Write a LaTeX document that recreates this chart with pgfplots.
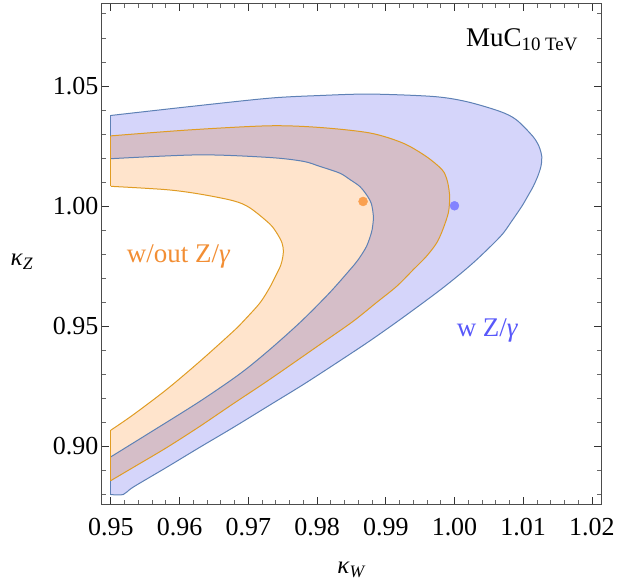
\documentclass[border=0pt]{standalone}
\usepackage{fontspec}
\setmainfont{Liberation Serif}
\usepackage{pgfplots}
\pgfplotsset{compat=1.18}
\usepackage{pgfplotstable}
\usepgfplotslibrary{fillbetween}

\definecolor{bluefill}{RGB}{213,213,250}
\definecolor{orangefill}{RGB}{255,228,204}
\definecolor{blueline}{RGB}{94,129,181}
\definecolor{orangeline}{RGB}{224,156,36}
\definecolor{orangetext}{RGB}{242,142,52}
\definecolor{bluetext}{RGB}{88,88,250}
\definecolor{orangedot}{RGB}{250,160,80}
\definecolor{bluedot}{RGB}{130,130,255}

% with Z/gamma: outer and inner boundary, both from the top-left end
\pgfplotstableread{
x y
0.9500 1.0377
0.9615 1.0414
0.9731 1.0449
0.9804 1.0460
0.9877 1.0466
0.9969 1.0456
1.0017 1.0435
1.0066 1.0394
1.0090 1.0359
1.0114 1.0290
1.0123 1.0248
1.0127 1.0206
1.0126 1.0168
1.0122 1.0130
1.0115 1.0084
1.0107 1.0043
1.0098 0.9999
1.0083 0.9936
1.0067 0.9874
1.0027 0.9763
0.9983 0.9659
0.9925 0.9536
0.9877 0.9439
0.9828 0.9346
0.9780 0.9257
0.9731 0.9171
0.9678 0.9078
0.9629 0.8995
0.9581 0.8912
0.9532 0.8829
0.9518 0.8799
0.9500 0.8799
}\blueouter

\pgfplotstableread{
x y
0.9500 1.0197
0.9629 1.0213
0.9731 1.0202
0.9780 1.0186
0.9804 1.0165
0.9833 1.0137
0.9848 1.0110
0.9862 1.0082
0.9872 1.0047
0.9879 1.0010
0.9882 0.9957
0.9881 0.9918
0.9879 0.9888
0.9872 0.9832
0.9860 0.9777
0.9848 0.9735
0.9818 0.9638
0.9777 0.9520
0.9731 0.9402
0.9688 0.9302
0.9629 0.9186
0.9557 0.9057
0.9500 0.8956
}\blueinner

% without Z/gamma
\pgfplotstableread{
x y
0.9500 1.0292
0.9615 1.0317
0.9731 1.0334
0.9804 1.0327
0.9877 1.0304
0.9925 1.0262
0.9959 1.0206
0.9982 1.0151
0.9989 1.0110
0.9992 1.0068
0.9993 1.0030
0.9991 0.9971
0.9983 0.9902
0.9974 0.9846
0.9959 0.9790
0.9940 0.9735
0.9916 0.9666
0.9886 0.9597
0.9852 0.9519
0.9804 0.9423
0.9731 0.9278
0.9678 0.9177
0.9629 0.9082
0.9581 0.8994
0.9532 0.8911
0.9500 0.8857
}\orangeouter

\pgfplotstableread{
x y
0.9500 1.0082
0.9581 1.0068
0.9629 1.0050
0.9678 1.0022
0.9702 0.9993
0.9731 0.9926
0.9742 0.9885
0.9749 0.9847
0.9751 0.9814
0.9750 0.9785
0.9747 0.9752
0.9740 0.9710
0.9731 0.9660
0.9717 0.9597
0.9695 0.9527
0.9678 0.9478
0.9629 0.9352
0.9581 0.9236
0.9532 0.9130
0.9500 0.9067
}\orangeinner

\begin{document}
\begin{tikzpicture}
\begin{axis}[
    name=ax,
    scale only axis,
    width=500pt, height=501pt,
    xmin=0.9487, xmax=1.0214,
    ymin=0.8757, ymax=1.0841,
    xtick={0.95,0.96,0.97,0.98,0.99,1.00,1.01,1.02},
    ytick={0.90,0.95,1.00,1.05},
    minor xtick={0.952,0.954,0.956,0.958,0.962,0.964,0.966,0.968,0.972,0.974,0.976,0.978,
                 0.982,0.984,0.986,0.988,0.992,0.994,0.996,0.998,1.002,1.004,1.006,1.008,
                 1.012,1.014,1.016,1.018},
    minor ytick={0.88,0.89,0.91,0.92,0.93,0.94,0.96,0.97,0.98,0.99,1.01,1.02,1.03,1.04,1.06,1.07,1.08},
    tick align=inside,
    major tick length=7.5pt,
    minor tick length=4.2pt,
    tick style={black!80, line width=0.8pt},
    minor tick style={black!60, line width=0.7pt},
    axis line style={black!70, line width=1pt},
    tick label style={font=\fontsize{26}{30}\selectfont},
    xticklabel style={yshift=-10pt},
    /pgf/number format/.cd, fixed, fixed zerofill, precision=2, assume math mode=true,
    /pgfplots/.cd,
    xlabel={\textit{κ}\textsubscript{\textit{W}}},
    ylabel={\textit{κ}\textsubscript{\textit{Z}}},
    every axis x label/.style={at={(axis description cs:0.5,-0.13)}, anchor=center,
        font=\fontsize{25}{28}\selectfont},
    every axis y label/.style={at={(axis description cs:-0.16,0.485)}, anchor=center,
        font=\fontsize{25}{28}\selectfont},
]
% boundaries (named for the fills)
\addplot[name path=bo, blueline, line width=1pt, smooth, tension=0.5] table {\blueouter};
\addplot[name path=bi, blueline, line width=1pt, smooth, tension=0.5] table {\blueinner};
\addplot[blueline, line width=1pt] coordinates {(0.9500,1.0377) (0.9500,1.0197)};
\addplot[blueline, line width=1pt] coordinates {(0.9500,0.8799) (0.9500,0.8956)};
\addplot[name path=oo, orangeline, line width=1pt, smooth, tension=0.5] table {\orangeouter};
\addplot[name path=oi, orangeline, line width=1pt, smooth, tension=0.5] table {\orangeinner};
\addplot[orangeline, line width=1pt] coordinates {(0.9500,1.0292) (0.9500,1.0082)};
\addplot[orangeline, line width=1pt] coordinates {(0.9500,0.8857) (0.9500,0.9067)};
% fills (drawn behind the lines)
\addplot[fill=bluefill, draw=none] fill between[of=bo and bi];
\addplot[fill=orangefill, draw=none, blend mode=multiply] fill between[of=oo and oi];
% best-fit points
\addplot[only marks, mark=*, mark size=4.5pt, color=orangedot] coordinates {(0.9867,1.0019)};
\addplot[only marks, mark=*, mark size=4.5pt, color=bluedot] coordinates {(1.0000,1.0001)};

\node[anchor=base west, inner sep=0pt, text=orangetext, font=\fontsize{27}{30}\selectfont]
    at (axis cs:0.9523,0.9763) {w/out Z/\textit{γ}};
\node[anchor=base west, inner sep=0pt, text=bluetext, font=\fontsize{27}{30}\selectfont]
    at (axis cs:1.0003,0.9458) {w Z/\textit{γ}};
\node[anchor=base east, inner sep=0pt, font=\fontsize{27}{30}\selectfont]
    at (axis cs:1.0180,1.0663) {MuC\textsubscript{10 TeV}};
\end{axis}
\path (ax.south west) ++(-102pt,-78pt);
\path (ax.north east) ++(16pt,4pt);
\end{tikzpicture}
\end{document}
